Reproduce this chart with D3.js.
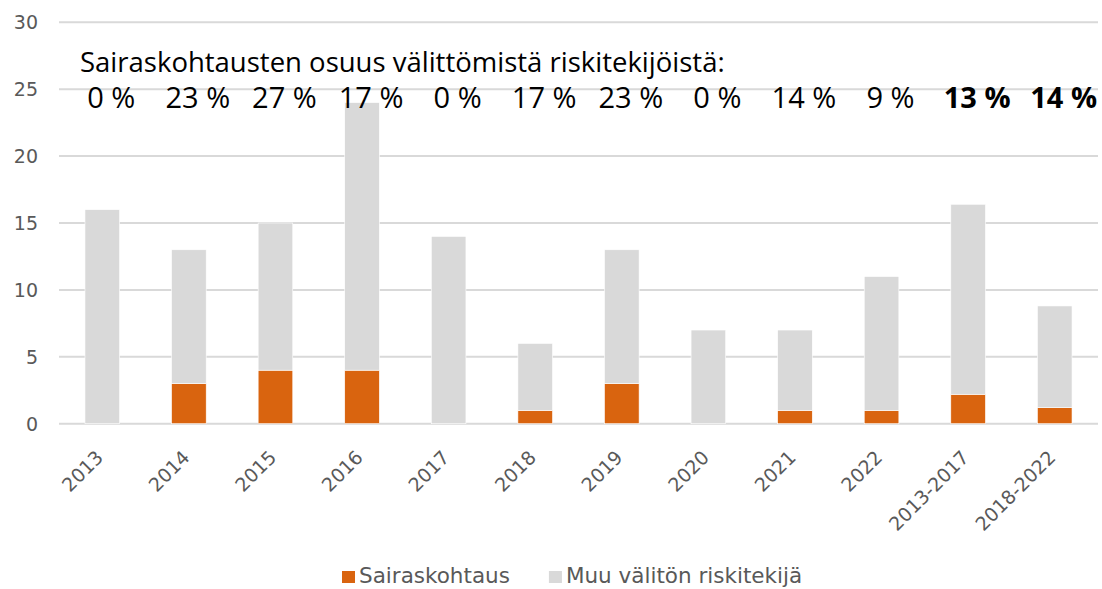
<!DOCTYPE html>
<html>
<head>
<meta charset="utf-8">
<script src="https://cdn.jsdelivr.net/npm/d3@7"></script>
<style>
  body { margin: 0; background: #fff; }
  svg { display: block; }
</style>
</head>
<body>
<div class="canvas"></div>
<script>
// data
const categories = ["2013", "2014", "2015", "2016", "2017", "2018", "2019", "2020", "2021", "2022", "2013-2017", "2018-2022"];
const sairaskohtaus = [0, 3, 4, 4, 0, 1, 3, 0, 1, 1, 2.2, 1.2];
const muuRiski = [16, 10, 11, 20, 14, 5, 10, 7, 6, 10, 14.2, 7.6];
const osuusLabels = ["0 %", "23 %", "27 %", "17 %", "0 %", "17 %", "23 %", "0 %", "14 %", "9 %", "13 %", "14 %"];
const osuusBold = [false, false, false, false, false, false, false, false, false, false, true, true];
const yTicks = [0, 5, 10, 15, 20, 25, 30];
const seriesNames = ["Sairaskohtaus", "Muu välitön riskitekijä"];
const colors = ["#D9640F", "#D9D9D9"];
const titleText = "Sairaskohtausten osuus välittömistä riskitekijöistä:";

const W = 1102, H = 589;
const svg = d3.select(".canvas").append("svg").attr("width", W).attr("height", H);

const x = d3.scaleBand().domain(categories).range([59, 1098]).paddingInner(0.6).paddingOuter(0.3);
const y = d3.scaleLinear().domain([0, 30]).range([423.7, 22.3]);

const rows = categories.map((c, i) => ({ cat: c, s: sairaskohtaus[i], m: muuRiski[i] }));
const stacked = d3.stack().keys(["s", "m"])(rows);

// gridlines
svg.append("g").selectAll("line").data(yTicks).join("line")
  .attr("x1", 59).attr("x2", 1098)
  .attr("y1", d => y(d)).attr("y2", d => y(d))
  .attr("stroke", "#D9D9D9").attr("stroke-width", 2);

// y axis labels
const yAxis = d3.axisLeft(y).tickValues(yTicks).tickSize(0).tickPadding(0);
const gy = svg.append("g").attr("transform", "translate(38,0)").call(yAxis);
gy.select(".domain").remove();
gy.selectAll("text").attr("font-family", "DejaVu Sans, sans-serif")
  .attr("font-size", 19).attr("fill", "#595959").attr("dy", "0.35em");

// bars
svg.append("g").selectAll("g").data(stacked).join("g")
  .attr("fill", (d, i) => colors[i])
  .selectAll("rect").data(d => d).join("rect")
  .attr("x", d => x(d.data.cat))
  .attr("width", x.bandwidth())
  .attr("y", d => y(d[1]))
  .attr("height", d => y(d[0]) - y(d[1]))
  .attr("stroke", "#fff").attr("stroke-width", 0.6);

// x axis labels, rotated
const xAxis = d3.axisBottom(x).tickSize(0).tickPadding(0);
const gx = svg.append("g").attr("transform", "translate(0,423.7)").call(xAxis);
gx.select(".domain").remove();
gx.selectAll("text")
  .attr("font-family", "DejaVu Sans, sans-serif")
  .attr("font-size", 19).attr("fill", "#595959")
  .attr("text-anchor", "end")
  .attr("dy", null).attr("y", 0)
  .attr("transform", "translate(2,35) rotate(-45)");

// title inside plot
svg.append("text")
  .attr("x", 80).attr("y", 72)
  .attr("font-family", "Open Sans, sans-serif")
  .attr("font-size", 27.5).attr("fill", "#000")
  .text(titleText);

// percent labels
svg.append("g").selectAll("text").data(osuusLabels).join("text")
  .attr("x", (d, i) => x(categories[i]) + x.bandwidth() / 2 + 9)
  .attr("y", 108)
  .attr("text-anchor", "middle")
  .attr("font-family", "Open Sans, sans-serif")
  .attr("font-size", 29)
  .attr("font-weight", (d, i) => osuusBold[i] ? "bold" : "normal")
  .attr("fill", "#000")
  .text(d => d);

// legend
const legend = svg.append("g").attr("transform", "translate(342,583)");
let lx = 0;
seriesNames.forEach((name, i) => {
  legend.append("rect").attr("x", lx).attr("y", -12).attr("width", 13).attr("height", 12).attr("fill", colors[i]);
  const t = legend.append("text").attr("x", lx + 17).attr("y", 0)
    .attr("font-family", "DejaVu Sans, sans-serif")
    .attr("font-size", 21.5).attr("fill", "#595959").text(name);
  lx += 17 + t.node().getComputedTextLength() + 39;
});
</script>
</body>
</html>
